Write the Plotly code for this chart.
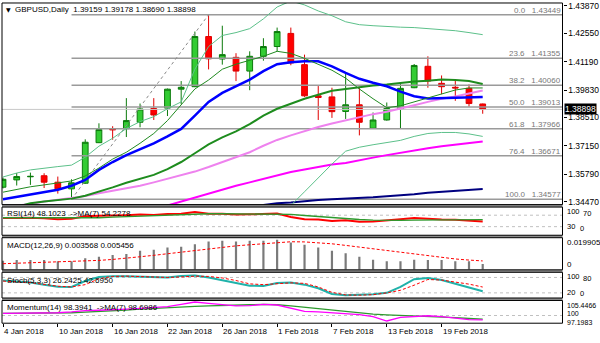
import plotly.graph_objects as go

# ---------------- data ----------------
bar_dates = ["2018-01-04", "2018-01-05", "2018-01-08", "2018-01-09", "2018-01-10", "2018-01-11",
             "2018-01-12", "2018-01-15", "2018-01-16", "2018-01-17", "2018-01-18", "2018-01-19",
             "2018-01-22", "2018-01-23", "2018-01-24", "2018-01-25", "2018-01-26", "2018-01-29",
             "2018-01-30", "2018-01-31", "2018-02-01", "2018-02-02", "2018-02-05", "2018-02-06",
             "2018-02-07", "2018-02-08", "2018-02-09", "2018-02-12", "2018-02-13", "2018-02-14",
             "2018-02-15", "2018-02-16", "2018-02-19", "2018-02-20", "2018-02-21", "2018-02-22"]
bar_idx = list(range(len(bar_dates)))

opens = [1.3516, 1.3551, 1.3566, 1.3571, 1.3540, 1.3508, 1.3535, 1.3730, 1.3797, 1.3797, 1.3828, 1.3894,
         1.3896, 1.3987, 1.3999, 1.4240, 1.4132, 1.4140, 1.4074, 1.4145, 1.4192, 1.4255, 1.4105, 1.3955,
         1.3950, 1.3880, 1.3912, 1.3799, 1.3839, 1.3892, 1.3994, 1.4097, 1.4015, 1.3996, 1.3991, 1.39159]
highs = [1.3562, 1.3584, 1.3586, 1.3583, 1.3567, 1.3554, 1.3746, 1.3823, 1.3809, 1.3944, 1.3918, 1.3944,
         1.3990, 1.4026, 1.4264, 1.43449, 1.4292, 1.4160, 1.4169, 1.4232, 1.4283, 1.4283, 1.4153, 1.4002,
         1.3994, 1.4065, 1.3998, 1.3875, 1.3923, 1.4013, 1.4108, 1.4145, 1.4053, 1.4029, 1.4010, 1.39178]
lows = [1.3510, 1.3524, 1.3527, 1.3512, 1.3485, 1.34577, 1.3532, 1.3728, 1.3744, 1.3757, 1.3804, 1.3839,
        1.3858, 1.3915, 1.3997, 1.4082, 1.4105, 1.4026, 1.3982, 1.4124, 1.4169, 1.4102, 1.3950, 1.3839,
        1.3849, 1.3844, 1.3765, 1.3797, 1.3836, 1.3799, 1.3992, 1.3994, 1.3963, 1.3931, 1.3903, 1.38690]
closes = [1.3554, 1.3567, 1.3568, 1.3540, 1.3508, 1.3537, 1.3732, 1.3793, 1.3792, 1.3836, 1.3892, 1.3863,
          1.3987, 1.3996, 1.4240, 1.4133, 1.4153, 1.4074, 1.4145, 1.4192, 1.4264, 1.4113, 1.3955, 1.3947,
          1.3879, 1.3912, 1.3828, 1.3839, 1.3894, 1.3991, 1.4101, 1.4026, 1.3999, 1.3993, 1.3918, 1.38898]

ma_blue = [1.3458, 1.3470, 1.3480, 1.3492, 1.3504, 1.3523, 1.3551, 1.3599, 1.3637, 1.3670, 1.3698, 1.3727,
           1.3760, 1.3796, 1.3860, 1.3926, 1.3969, 1.4002, 1.4033, 1.4074, 1.4107, 1.4116, 1.4121, 1.4121,
           1.4097, 1.4065, 1.4037, 1.4018, 1.4001, 1.3975, 1.3953, 1.3942, 1.3944, 1.3947, 1.3950, 1.3950]
ma_fast_green = [1.3492, 1.3506, 1.3518, 1.3527, 1.3537, 1.3546, 1.3570, 1.3608, 1.3651, 1.3684, 1.3727, 1.3774,
                 1.3836, 1.3912, 1.3988, 1.4031, 1.4083, 1.4107, 1.4126, 1.4145, 1.4169, 1.4159, 1.4135, 1.4107,
                 1.4078, 1.4040, 1.3988, 1.3941, 1.3898, 1.3907, 1.3926, 1.3945, 1.3964, 1.3983, 1.3993, 1.3993]
bb_mid = [1.3404, 1.3423, 1.3439, 1.3447, 1.3454, 1.3461, 1.3475, 1.3494, 1.3515, 1.3537, 1.3556, 1.3575,
          1.3603, 1.3637, 1.3679, 1.3722, 1.3755, 1.3784, 1.3819, 1.3860, 1.3893, 1.3917, 1.3941, 1.3960,
          1.3979, 1.3988, 1.3998, 1.4005, 1.4009, 1.4017, 1.4024, 1.4028, 1.4033, 1.4031, 1.4026, 1.4012]
bb_upper = [1.3565, 1.3584, 1.3599, 1.3608, 1.3615, 1.3622, 1.3660, 1.3713, 1.3751, 1.3798, 1.3831, 1.3855,
            1.3893, 1.3926, 1.4083, 1.4192, 1.4245, 1.4259, 1.4278, 1.4325, 1.4382, 1.4411, 1.4392, 1.4363,
            1.4340, 1.4311, 1.4297, 1.4292, 1.4287, 1.4285, 1.4283, 1.4278, 1.4273, 1.4268, 1.4259, 1.4249]
bb_lower_first = 20
bb_lower = [1.3337, 1.3428, 1.3494, 1.3561, 1.3627, 1.3689, 1.3708, 1.3720, 1.3729, 1.3741, 1.3760, 1.3774,
            1.3779, 1.3779, 1.3772, 1.3760]
ma_violet = [1.3420, 1.3428, 1.3435, 1.3447, 1.3456, 1.3463, 1.3473, 1.3487, 1.3499, 1.3511, 1.3523, 1.3539,
             1.3556, 1.3575, 1.3591, 1.3613, 1.3637, 1.3658, 1.3684, 1.3715, 1.3743, 1.3765, 1.3786, 1.3805,
             1.3822, 1.3838, 1.3853, 1.3867, 1.3879, 1.3893, 1.3910, 1.3926, 1.3941, 1.3952, 1.3967, 1.3981]
ma_magenta_first = 11
ma_magenta = [1.3409, 1.3428, 1.3447, 1.3468, 1.3487, 1.3506, 1.3523, 1.3539, 1.3556, 1.3572, 1.3589, 1.3601,
              1.3613, 1.3625, 1.3632, 1.3646, 1.3658, 1.3670, 1.3682, 1.3691, 1.3703, 1.3713, 1.3720, 1.3727,
              1.3736]
ma_navy_first = 19
ma_navy = [1.3430, 1.3439, 1.3442, 1.3449, 1.3454, 1.3458, 1.3461, 1.3463, 1.3468, 1.3473, 1.3477, 1.3482,
           1.3489, 1.3494, 1.3499, 1.3504, 1.3507]

fib_levels = ["0.0", "23.6", "38.2", "50.0", "61.8", "76.4", "100.0"]
fib_prices = [1.43449, 1.41355, 1.40060, 1.39013, 1.37966, 1.36671, 1.34577]
fib_low_idx = 5
fib_high_idx = 15

price_ticks = [1.43870, 1.42550, 1.41190, 1.39830, 1.38510, 1.37150, 1.35790, 1.34470]
last_price = 1.38898
title_text = "GBPUSD,Daily\u00a0\u00a01.39159 1.39178 1.38690 1.38898"

date_tick_idx = [0, 4, 8, 12, 16, 20, 24, 28, 32]
date_tick_labels = ["4 Jan 2018", "10 Jan 2018", "16 Jan 2018", "22 Jan 2018", "26 Jan 2018",
                    "1 Feb 2018", "7 Feb 2018", "13 Feb 2018", "19 Feb 2018"]

rsi = [60, 61, 61, 59, 56, 58, 66, 68, 68, 70, 72, 71, 74, 75, 81, 75, 75, 72, 73, 74, 76, 64, 56, 55,
       50, 52, 47, 48, 51, 56, 60, 57, 55, 54, 51, 48.1023]
rsi_ma = [61, 61, 61, 60, 60, 59, 60, 61, 63, 65, 67, 69, 71, 72, 74, 75, 75, 75, 75, 75, 75, 73, 69, 65,
          61, 58, 55, 53, 52, 52, 53, 53, 53, 54, 54, 54.2278]
rsi_levels = [70, 30]

macd = [0.00563, 0.00607, 0.00607, 0.00607, 0.00526, 0.00526, 0.00714, 0.00814, 0.0092, 0.00983, 0.0119,
        0.0125, 0.0140, 0.0144, 0.0161, 0.0178, 0.0182, 0.0178, 0.0182, 0.0182, 0.0188, 0.0172, 0.0157,
        0.0140, 0.0119, 0.0103, 0.00814, 0.00626, 0.00526, 0.00526, 0.00626, 0.00607, 0.00607, 0.00526,
        0.00526, 0.003568]
macd_signal = [0.0037, 0.0040, 0.0042, 0.0045, 0.0047, 0.0048, 0.0052, 0.0058, 0.0064, 0.0071, 0.0081,
               0.0090, 0.0100, 0.0109, 0.0120, 0.0132, 0.0142, 0.0150, 0.0157, 0.0163, 0.0170, 0.0176,
               0.0175, 0.0170, 0.0163, 0.0153, 0.0142, 0.0130, 0.0118, 0.0108, 0.0096, 0.0085, 0.0075,
               0.0067, 0.0060, 0.005456]

stoch_k = [68, 65, 60, 52, 44, 43, 66, 82, 85, 85, 84, 82, 80, 86, 88, 80, 70, 58, 48, 47, 58, 60, 52, 38,
           16, 11, 12, 15, 20, 43, 73, 78, 70, 55, 40, 26.2425]
stoch_d = [66, 64, 60, 53, 46, 43, 52, 75, 84, 85, 83, 81, 80, 82, 85, 84, 78, 68, 55, 52, 55, 59, 57, 43,
           22, 12, 11, 13, 20, 30, 50, 72, 70, 62, 54, 42.6950]
stoch_levels = [80, 20]

momentum = [100.8, 100.8, 100.9, 100.8, 101.0, 101.3, 101.8, 101.9, 102.0, 102.3, 102.6, 102.9, 103.2,
            104.0, 104.9, 104.4, 103.9, 103.5, 103.6, 104.0, 103.8, 102.6, 101.5, 101.3, 101.0, 100.7,
            100.3, 99.6, 98.0, 99.3, 99.7, 99.9, 99.6, 99.0, 98.5, 98.3941]
momentum_ma = [100.8, 100.8, 100.8, 100.9, 100.9, 101.0, 101.2, 101.4, 101.7, 102.0, 102.3, 102.6, 102.8,
               103.0, 103.3, 103.5, 103.7, 103.8, 103.9, 104.0, 103.9, 103.5, 103.0, 102.5, 101.9, 101.4,
               100.9, 100.5, 100.2, 100.0, 99.8, 99.7, 99.6, 99.2, 98.9, 98.6986]
momentum_level = 100

# ---------------- layout helpers (pixel geometry) ----------------
W, H = 600, 343
FONT = "Liberation Sans, Arial, sans-serif"


def fx(px):
    return px / W


def fy(py):
    return 1 - py / H


X_L, X_R = 2.0, 562.5          # plot area left/right borders (px)
BAR0_PX, BAR_PX = 3.0, 13.706  # centre of first bar, pixels per bar
x_range = [(X_L - BAR0_PX) / BAR_PX, (X_R - BAR0_PX) / BAR_PX]

panels = {  # top px, bottom px
    "y": (1.0, 205.0),
    "y2": (207.5, 236.0),
    "y3": (238.5, 271.0),
    "y4": (273.5, 299.5),
    "y5": (302.0, 325.0),
}
ranges = {
    "y": [1.343225, 1.440125],
    "y2": [0, 98.3],
    "y3": [-0.000188, 0.020157],
    "y4": [0, 100],
    "y5": [97.1983, 105.4466],
}

fig = go.Figure()


def line(xs, ys, color, width, yaxis="y", dash="solid"):
    fig.add_trace(go.Scatter(x=xs, y=ys, mode="lines", line=dict(color=color, width=width, dash=dash),
                             xaxis="x", yaxis=yaxis, hoverinfo="skip", showlegend=False))


# current price line and fibonacci retracement
line([x_range[0], x_range[1]], [last_price, last_price], "#c8c8c8", 1)
for fp in fib_prices:
    line([fib_low_idx, x_range[1]], [fp, fp], "#9a9a9a", 1.6)
line([fib_low_idx, fib_high_idx], [fib_prices[-1], fib_prices[0]], "#8a8a8a", 1, dash="3px,3px")

# moving averages / bands
line(bar_idx[ma_navy_first:], ma_navy, "#000080", 2)
line(bar_idx[ma_magenta_first:], ma_magenta, "#ff00ff", 2)
line(bar_idx, ma_violet, "#ee82ee", 2)
line(bar_idx, bb_upper, "#5cc08a", 1)
line(bar_idx[bb_lower_first:], bb_lower, "#5cc08a", 1)
line(bar_idx, bb_mid, "#1e8c1e", 2)
line(bar_idx, ma_blue, "#0000ff", 2.5)
line(bar_idx, ma_fast_green, "#208a20", 1)

fig.add_trace(go.Candlestick(
    x=bar_idx, open=opens, high=highs, low=lows, close=closes, xaxis="x", yaxis="y",
    increasing=dict(line=dict(color="#0b7a0b", width=1), fillcolor="#33cc33"),
    decreasing=dict(line=dict(color="#e00000", width=1), fillcolor="#ff0000"),
    whiskerwidth=0, hoverinfo="skip", showlegend=False))

# RSI
line(bar_idx, rsi, "#ff0000", 2, "y2")
line(bar_idx, rsi_ma, "#2e9a2e", 1.3, "y2")
# MACD
fig.add_trace(go.Bar(x=bar_idx, y=macd, width=0.16, marker=dict(color="#7a7a7a", line=dict(width=0)),
                     xaxis="x", yaxis="y3", hoverinfo="skip", showlegend=False))
line(bar_idx, macd_signal, "#ff0000", 1, "y3", dash="3px,2px")
# Stochastic
line(bar_idx, stoch_k, "#20b2aa", 2, "y4")
line(bar_idx, stoch_d, "#ff0000", 1, "y4", dash="3px,2px")
# Momentum
line(bar_idx, momentum_ma, "#2e9a2e", 1.3, "y5")
line(bar_idx, momentum, "#ff00ff", 1.3, "y5")

shapes = []
# level lines
for lv in rsi_levels:
    shapes.append(dict(type="line", xref="paper", yref="y2", x0=fx(X_L), x1=fx(X_R), y0=lv, y1=lv,
                       line=dict(color="#c0c0c0", width=1, dash="3px,3px"), layer="below"))
for lv in stoch_levels:
    shapes.append(dict(type="line", xref="paper", yref="y4", x0=fx(X_L), x1=fx(X_R), y0=lv, y1=lv,
                       line=dict(color="#c0c0c0", width=1, dash="3px,3px"), layer="below"))
shapes.append(dict(type="line", xref="paper", yref="y5", x0=fx(X_L), x1=fx(X_R), y0=momentum_level,
                   y1=momentum_level, line=dict(color="#c0c0c0", width=1, dash="3px,3px"), layer="below"))

# separators and frames
keys = list(panels)
for a, b in zip(keys[:-1], keys[1:]):
    shapes.append(dict(type="rect", xref="paper", yref="paper", x0=fx(X_L), x1=fx(X_R),
                       y0=fy(panels[b][0]), y1=fy(panels[a][1]), fillcolor="#8c8c8c",
                       line=dict(width=0)))
for k, (t, b) in panels.items():
    shapes.append(dict(type="rect", xref="paper", yref="paper", x0=fx(X_L), x1=fx(X_R),
                       y0=fy(b), y1=fy(t), line=dict(color="black", width=1)))

ann = []
ann.append(dict(text="\u25bc", x=fx(4), y=fy(7.5), xref="paper", yref="paper", xanchor="left",
                yanchor="middle", showarrow=False, font=dict(family="DejaVu Sans", size=6, color="black")))
ann.append(dict(text=title_text, x=fx(13), y=fy(8), xref="paper", yref="paper", xanchor="left",
                yanchor="middle", showarrow=False, font=dict(family=FONT, size=8, color="black")))
for lvl, fp in zip(fib_levels, fib_prices):
    ann.append(dict(text=lvl + "\u00a0\u00a0\u00a0" + f"{fp:.5f}", x=fx(561.5), y=fp, xref="paper", yref="y",
                    xanchor="right", yanchor="bottom", showarrow=False, borderpad=0, yshift=-1,
                    font=dict(family=FONT, size=8, color="#777777")))
ann.append(dict(text=f"{last_price:.5f}", x=fx(563.5), y=last_price, xref="paper", yref="y",
                xanchor="left", yanchor="middle", showarrow=False, bgcolor="black", borderpad=0,
                font=dict(family=FONT, size=8.5, color="white")))

panel_titles = [("RSI(14) 48.1023  ->MA(7) 54.2278", 213.5),
                ("MACD(12,26,9) 0.003568 0.005456", 246.5),
                ("Stoch(5,3,3) 26.2425 42.6950", 281.5),
                ("Momentum(14) 98.3941  ->MA(7) 98.6986", 309.5)]
for txt, py in panel_titles:
    ann.append(dict(text=txt, x=fx(5), y=fy(py), xref="paper", yref="paper", xanchor="left",
                    yanchor="middle", showarrow=False, font=dict(family=FONT, size=8, color="black")))

# right-hand scale labels of the indicator windows (x px, y px, size)
side_labels = [("100", 565.5, 212.0, 7.5), ("70", 581.5, 214.5, 7.5),
               ("30", 565.5, 227.5, 7.5), ("0", 578.5, 229.5, 7.5),
               ("0.019905", 565.5, 243.0, 8), ("0", 565.5, 265.5, 8),
               ("100", 565.5, 278.0, 7.5), ("80", 581.5, 279.5, 7.5),
               ("20", 565.5, 293.5, 7.5), ("0", 578.5, 294.5, 7.5),
               ("105.4466", 565.5, 307.0, 7), ("100", 565.5, 315.5, 7), ("97.1983", 565.5, 324.0, 7)]
for txt, px, py, sz in side_labels:
    ann.append(dict(text=txt, x=fx(px), y=fy(py), xref="paper", yref="paper", xanchor="left",
                    yanchor="middle", showarrow=False, borderpad=0,
                    font=dict(family=FONT, size=sz, color="black")))

for ti, tl in zip(date_tick_idx, date_tick_labels):
    ann.append(dict(text=tl, x=ti, y=fy(333), xref="x", yref="paper", xanchor="left", yanchor="middle",
                    showarrow=False, borderpad=0, font=dict(family=FONT, size=8, color="black")))

layout = dict(
    width=W, height=H, margin=dict(l=0, r=0, t=0, b=0),
    paper_bgcolor="white", plot_bgcolor="white", showlegend=False, boxgap=0.4,
    font=dict(family=FONT, size=8, color="black"), hovermode=False,
    shapes=shapes, annotations=ann,
    xaxis=dict(domain=[fx(X_L), fx(X_R)], range=x_range, anchor="y5", showgrid=False, zeroline=False,
               showline=False, tickmode="array", tickvals=date_tick_idx, ticks="outside", ticklen=3,
               tickcolor="black", showticklabels=False, rangeslider=dict(visible=False), fixedrange=True),
)
for i, k in enumerate(keys):
    name = "yaxis" if k == "y" else "yaxis" + k[1:]
    t, b = panels[k]
    ax = dict(domain=[fy(b), fy(t)], range=ranges[k], anchor="x", showgrid=False, zeroline=False,
              showline=False, showticklabels=False, fixedrange=True)
    if k == "y":
        ax.update(side="right", tickmode="array", tickvals=price_ticks,
                  ticktext=[f"{v:.5f}" for v in price_ticks], showticklabels=True, ticks="outside",
                  ticklen=3, tickcolor="black", ticklabeloverflow="allow",
                  tickfont=dict(family=FONT, size=8.5, color="black"))
    layout[name] = ax

fig.update_layout(**layout)
fig.write_html("out.html")
